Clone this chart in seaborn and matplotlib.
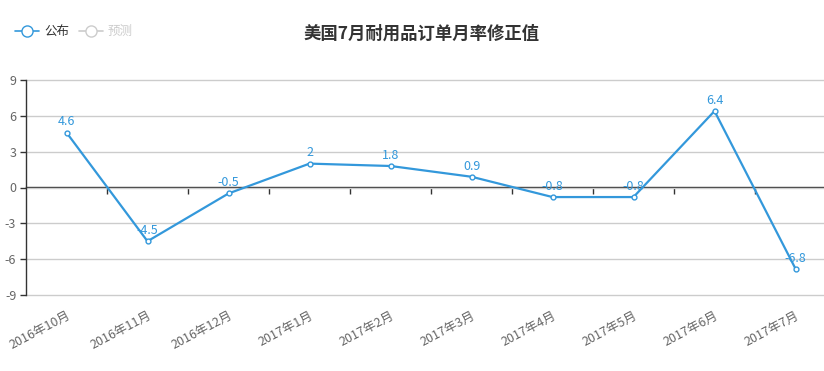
import numpy as np
import pandas as pd
import matplotlib
matplotlib.use('Agg')
import matplotlib.pyplot as plt
from matplotlib.lines import Line2D
import seaborn as sns

months = ['2016年10月', '2016年11月', '2016年12月', '2017年1月', '2017年2月',
          '2017年3月', '2017年4月', '2017年5月', '2017年6月', '2017年7月']
published = [4.6, -4.5, -0.5, 2, 1.8, 0.9, -0.8, -0.8, 6.4, -6.8]
value_labels = ['4.6', '-4.5', '-0.5', '2', '1.8', '0.9', '-0.8', '-0.8', '6.4', '-6.8']
y_ticks = [-9, -6, -3, 0, 3, 6, 9]

sns.set_style('white')
plt.rcParams['font.family'] = ['Noto Sans CJK SC', 'DejaVu Sans']
plt.rcParams['axes.unicode_minus'] = False

blue = '#3398db'
df = pd.DataFrame({'month': months, 'value': published})

fig = plt.figure(figsize=(8.24, 3.71), dpi=100)
# plot runs a bit past the right edge like the original
ax = fig.add_axes([26 / 824, 76 / 371, 810 / 824, 215 / 371])

sns.lineplot(data=df, x='month', y='value', ax=ax, color=blue, linewidth=1.6,
             marker='o', markersize=3.5, markerfacecolor='white',
             markeredgecolor=blue, markeredgewidth=1, sort=False)

for i, (v, lab) in enumerate(zip(published, value_labels)):
    ax.annotate(lab, (i, v), xytext=(0, 3), textcoords='offset points',
                ha='center', va='bottom', color=blue, fontsize=9)

ax.set_xlim(-0.5, len(months) - 0.5)
ax.set_ylim(-9, 9)
ax.set_yticks(y_ticks)
ax.set_yticklabels([str(t) for t in y_ticks])
ax.grid(axis='y', color='#cccccc', linewidth=1)
for gl in ax.get_ygridlines():
    gl.set_clip_on(False)
ax.set_axisbelow(True)
ax.set_xlabel('')
ax.set_ylabel('')

for s in ['top', 'right', 'bottom']:
    ax.spines[s].set_visible(False)
ax.spines['left'].set_color('#333333')
ax.spines['left'].set_linewidth(1)

ax.tick_params(axis='y', colors='#333333', length=4, width=1, labelcolor='#666666',
               labelsize=9, left=True, pad=3)
ax.set_xticks(range(len(months)))
ax.set_xticklabels(months, rotation=28, ha='right', rotation_mode='anchor',
                   color='#666666', fontsize=9)
ax.tick_params(axis='x', length=0, pad=10)

# zero axis line with category boundary ticks
zero_ax = ax.secondary_xaxis(0.5)
for s in zero_ax.spines.values():
    s.set_color('#333333')
    s.set_linewidth(1)
zero_ax.set_xticks(np.arange(0.5, len(months) - 0.5, 1))
zero_ax.set_xticklabels([])
zero_ax.tick_params(axis='x', which='both', length=5, width=1, color='#333333',
                    direction='in', labeltop=False, labelbottom=False)

fig.text(0.511, 0.91, '美国7月耐用品订单月率修正值', ha='center', va='center',
         fontsize=12.5, fontweight='bold', color='#333333')

handles = [
    Line2D([], [], color=blue, marker='o', markersize=8, markerfacecolor='white',
           markeredgecolor=blue, linewidth=1.2),
    Line2D([], [], color='#cccccc', marker='o', markersize=8, markerfacecolor='white',
           markeredgecolor='#cccccc', linewidth=1.2),
]
leg = fig.legend(handles, ['公布', '预测'], loc='center left', bbox_to_anchor=(0.005, 0.915),
                 ncol=2, frameon=False, fontsize=9, handlelength=1.9,
                 handletextpad=0.4, columnspacing=0.8)
leg.get_texts()[0].set_color('#333333')
leg.get_texts()[1].set_color('#cccccc')

fig.savefig('out.png', dpi=100)
